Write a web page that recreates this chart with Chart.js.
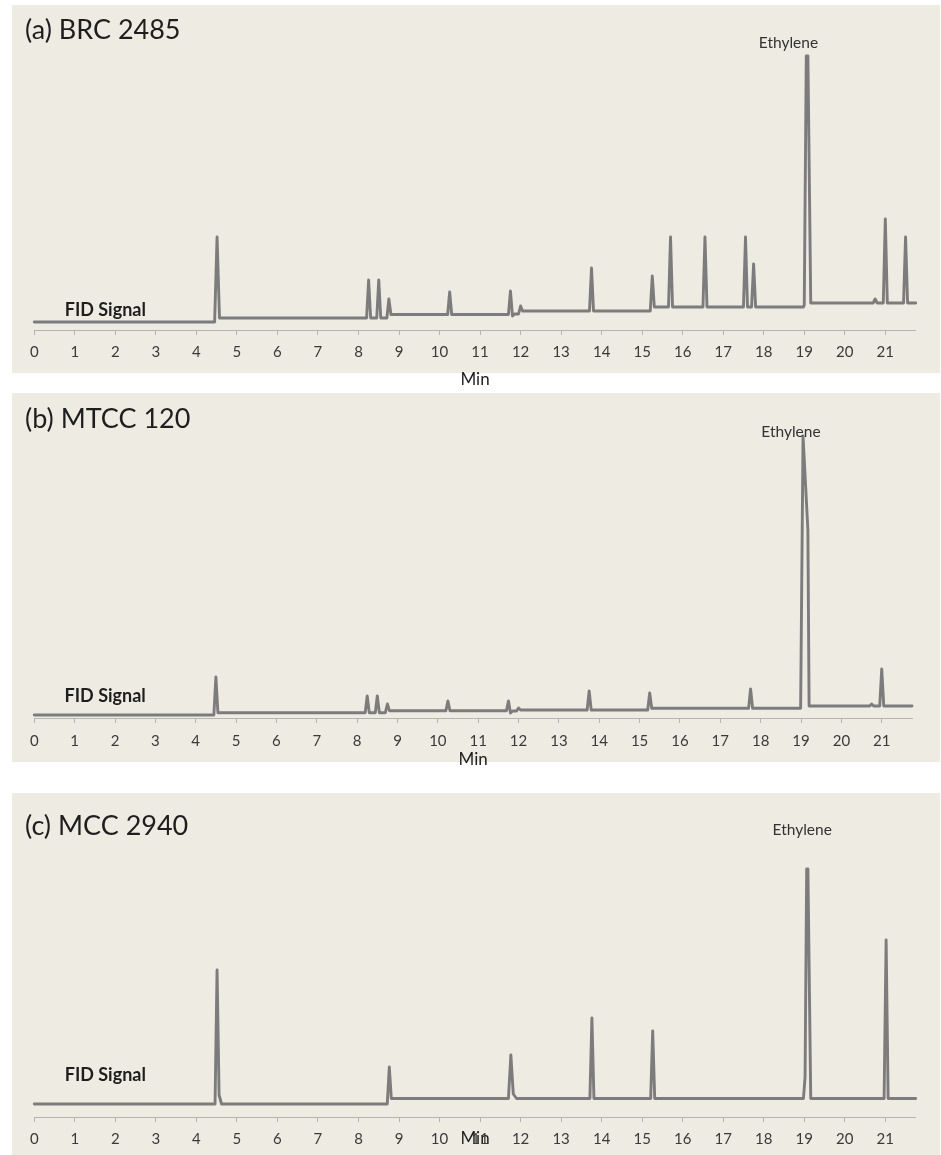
<!DOCTYPE html>
<html><head><meta charset="utf-8">
<script src="https://cdn.jsdelivr.net/npm/chart.js@4.4.0/dist/chart.umd.min.js"></script>
<style>
html,body{margin:0;padding:0;background:#fff;width:941px;height:1155px;overflow:hidden;position:relative}
.panel{position:absolute;left:12px;width:928px;background:#EEEBE3}
canvas{position:absolute;left:0}
</style></head>
<body>
<div class="panel" style="top:5px;height:368px"></div>
<div class="panel" style="top:393px;height:369px"></div>
<div class="panel" style="top:793px;height:362px"></div>
<canvas id="ca" width="941" height="390" style="top:5px;width:941px;height:390px"></canvas>
<canvas id="cb" width="941" height="380" style="top:393px;width:941px;height:380px"></canvas>
<canvas id="cc" width="941" height="362" style="top:793px;width:941px;height:362px"></canvas>
<script>
// ---- data (retention time in min, FID signal in arbitrary units) ----
const panelTitles = ['(a) BRC 2485', '(b) MTCC 120', '(c) MCC 2940'];
const xAxisTitle = 'Min';
const signalLabel = 'FID Signal';
const peakLabel = 'Ethylene';
const tickValues = [0,1,2,3,4,5,6,7,8,9,10,11,12,13,14,15,16,17,18,19,20,21];

const timeA = [0,4.45,4.51,4.57,8.2,8.25,8.3,8.45,8.5,8.55,8.7,8.75,8.8,10.2,10.25,10.3,11.7,11.75,11.8,11.85,11.95,12.0,12.05,13.7,13.75,13.8,15.2,15.25,15.3,15.65,15.7,15.75,16.5,16.55,16.6,17.5,17.55,17.6,17.7,17.75,17.8,18.98,19.0,19.05,19.09,19.16,20.7,20.75,20.8,20.95,21.0,21.05,21.45,21.5,21.55,21.75];
const signalA = [8,8,93,12,12,50,12,12,50,12,12,31,15.5,15.5,38,15.5,15.5,39,14,16,16,24,19,19,62,19,19,54,23,23,93,23,23,93,23,23,93,23,23,66,23,23,25,274,274,27,27,31,27,27,111,27,27,93,27,27];

const timeB = [0,4.45,4.5,4.55,8.2,8.25,8.3,8.45,8.5,8.55,8.7,8.75,8.8,10.2,10.25,10.3,11.7,11.75,11.8,11.85,11.95,12.0,12.05,13.7,13.75,13.8,15.2,15.25,15.3,17.7,17.75,17.8,18.99,19.05,19.07,19.17,19.2,20.7,20.75,20.8,20.95,21.0,21.05,21.75];
const signalB = [3,3,41,5.3,5.3,22,5.3,5.3,22,5.3,5.3,14,7.3,7.3,17,7.3,7.3,17,5,7,7,10,8,8,27,8,8,25,9.7,9.7,29,9.7,9.7,282,282,188,12,12,14,12,12,49,12,12];

const timeC = [0,4.46,4.51,4.56,4.62,8.71,8.76,8.81,11.7,11.76,11.82,11.9,13.71,13.76,13.81,15.21,15.26,15.31,18.98,19.02,19.06,19.09,19.16,20.97,21.02,21.07,21.75];
const signalC = [13,13,147,22,13,13,50,18.5,18.5,62,23,18.5,18.5,99,18.5,18.5,86,18.5,18.5,40,248,248,18.5,18.5,177,18.5,18.5];

// label anchor points (data coordinates)
const ethyleneAnchor = [[18.61,287],[18.75,286],[18.95,287]];
const fidAnchor = [[0.75,20],[0.75,22],[0.75,42]];

// ---- styling ----
const FONT = 'Lato, "Open Sans", sans-serif';
const LINE = '#7C7C7C';
const AXIS = '#B4B4B4';

const textPlugin = {
  id: 'textLabels',
  afterDraw(chart, args, opts) {
    const {ctx} = chart;
    const x = chart.scales.x, y = chart.scales.y;
    (opts.items || []).forEach(it => {
      ctx.save();
      ctx.font = it.font;
      ctx.fillStyle = it.color;
      ctx.textAlign = it.align;
      ctx.textBaseline = 'middle';
      ctx.fillText(it.text, x.getPixelForValue(it.x), y.getPixelForValue(it.y));
      ctx.restore();
    });
  }
};

function makeChart(id, idx, times, signal, cfg) {
  const pts = times.map((t, i) => ({x: t, y: signal[i]}));
  return new Chart(document.getElementById(id), {
    type: 'scatter',
    data: { datasets: [{
      data: pts, showLine: true, pointRadius: 0, borderColor: LINE, borderWidth: 2.9,
      borderJoinStyle: 'round', borderCapStyle: 'round', tension: 0, clip: false
    }]},
    plugins: [textPlugin],
    options: {
      responsive: false, animation: false, devicePixelRatio: 1,
      layout: { padding: { left: 25, right: cfg.padRight, top: 0, bottom: 0 } },
      plugins: {
        legend: { display: false }, tooltip: { enabled: false },
        title: { display: true, text: panelTitles[idx], align: 'start', color: '#1E1E1E',
          font: { family: FONT, size: 27, weight: 'normal', lineHeight: 1.2 },
          padding: { top: cfg.titleTop, bottom: 0 } },
        textLabels: { items: [
          { text: peakLabel, x: ethyleneAnchor[idx][0], y: ethyleneAnchor[idx][1], align: 'center',
            font: '15.5px ' + FONT, color: '#333333' },
          { text: signalLabel, x: fidAnchor[idx][0], y: fidAnchor[idx][1], align: 'left',
            font: 'bold 18px ' + FONT, color: '#1E1E1E' }
        ]}
      },
      scales: {
        x: {
          type: 'linear', min: 0, max: 21.75,
          afterFit: s => { s.height = cfg.axisHeight; },
          afterBuildTicks: s => { s.ticks = tickValues.map(v => ({value: v})); },
          ticks: { stepSize: 1, includeBounds: false, autoSkip: false, maxRotation: 0,
            padding: cfg.tickPad, color: '#3A3A3A', font: { family: FONT, size: 15, lineHeight: 1.2 } },
          grid: { display: true, drawOnChartArea: false, drawTicks: true, tickLength: 5, color: AXIS, lineWidth: 1 },
          border: { display: true, color: AXIS, width: 1 },
          title: { display: true, text: xAxisTitle, color: '#1E1E1E',
            font: { family: FONT, size: 17, lineHeight: 1.2 }, padding: { top: 0, bottom: cfg.minPad } }
        },
        y: {
          type: 'linear', min: 0, max: cfg.yMax, display: true,
          afterFit: s => { s.width = 9.3; },
          ticks: { display: false }, grid: { display: false }, border: { display: false }
        }
      }
    }
  });
}

makeChart('ca', 0, timeA, signalA, { padRight: 25.3, titleTop: 8.8, axisHeight: 65, tickPad: 8, minPad: 4.8, yMax: 283.8 });
makeChart('cb', 1, timeB, signalB, { padRight: 29, titleTop: 9.8, axisHeight: 55, tickPad: 9, minPad: 2.8, yMax: 282.8 });
makeChart('cc', 2, timeC, signalC, { padRight: 25.3, titleTop: 17.5, axisHeight: 38, tickPad: 8, minPad: 5.8, yMax: 274.1 });
</script>
</body></html>
